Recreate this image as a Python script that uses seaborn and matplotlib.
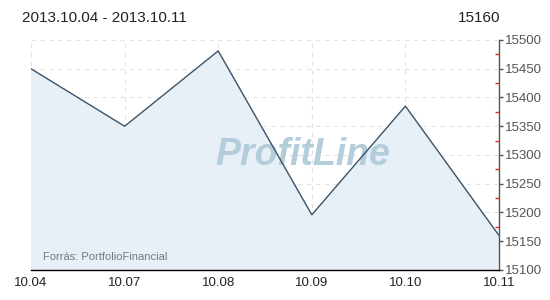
import matplotlib
matplotlib.use("Agg")
import matplotlib.pyplot as plt
import seaborn as sns
import pandas as pd
from matplotlib.ticker import MultipleLocator

dates = ["10.04", "10.07", "10.08", "10.09", "10.10", "10.11"]
values = [15450, 15350, 15481, 15196, 15385, 15160]
y_ticks = [15100, 15150, 15200, 15250, 15300, 15350, 15400, 15450, 15500]
title_text = "2013.10.04 - 2013.10.11"
last_text = "15160"
source_text = "Forrás: PortfolioFinancial"
watermark = "ProfitLine"

sns.set_style("white")
plt.rcParams['font.family'] = ['Liberation Sans', 'DejaVu Sans']

df = pd.DataFrame({"x": range(len(dates)), "v": values})

fig = plt.figure(figsize=(5.5, 3), dpi=100)
ax = fig.add_axes([31/550, 30/300, 468/550, 230/300])

ax.fill_between(df["x"], df["v"], 15100, color="#e8f0f7", zorder=1)
sns.lineplot(data=df, x="x", y="v", ax=ax, color="#3d5569", linewidth=1.0, zorder=3)

ax.set_xlim(0, len(dates) - 1)
ax.set_ylim(15100, 15500)
ax.set_xticks(range(len(dates)))
ax.set_xticklabels(dates)
ax.set_yticks(y_ticks)
ax.set_yticklabels([str(t) for t in y_ticks])
ax.yaxis.set_minor_locator(MultipleLocator(25))
ax.yaxis.tick_right()
ax.set_xlabel("")
ax.set_ylabel("")

ax.grid(True, which="major", color="#e2e2e2", linestyle=(0, (4, 4)), linewidth=0.8, zorder=0)
ax.set_axisbelow(True)

for s in ["top", "left"]:
    ax.spines[s].set_visible(False)
ax.spines["bottom"].set_color("#000000")
ax.spines["bottom"].set_linewidth(1.0)
ax.spines["right"].set_color("#555555")
ax.spines["right"].set_linewidth(1.0)

ax.tick_params(axis="x", which="major", direction="out", length=3, width=1, color="#000000",
               labelsize=9.5, labelcolor="#222222", pad=2)
ax.tick_params(axis="y", which="major", direction="out", length=3, width=1, color="#555555",
               labelsize=9.5, labelcolor="#555555", pad=1, right=True, left=False)
ax.tick_params(axis="y", which="minor", direction="in", length=3, width=1, color="#e03030",
               right=True, left=False)

ax.text(0.58, 0.5, watermark, transform=ax.transAxes, ha="center", va="center",
        fontsize=27, fontweight="bold", fontstyle="italic", color="#b3cddb", zorder=2,
        family=["Liberation Sans", "DejaVu Sans"])
ax.text(12/468, 13/230, source_text, transform=ax.transAxes, ha="left", va="center",
        fontsize=8, color="#777777", zorder=4)

fig.text(22/550, 1 - 18/300, title_text, ha="left", va="center", fontsize=11, color="#222222")
fig.text(500/550, 1 - 18/300, last_text, ha="right", va="center", fontsize=11, color="#222222")

fig.savefig("out.png", dpi=100)
